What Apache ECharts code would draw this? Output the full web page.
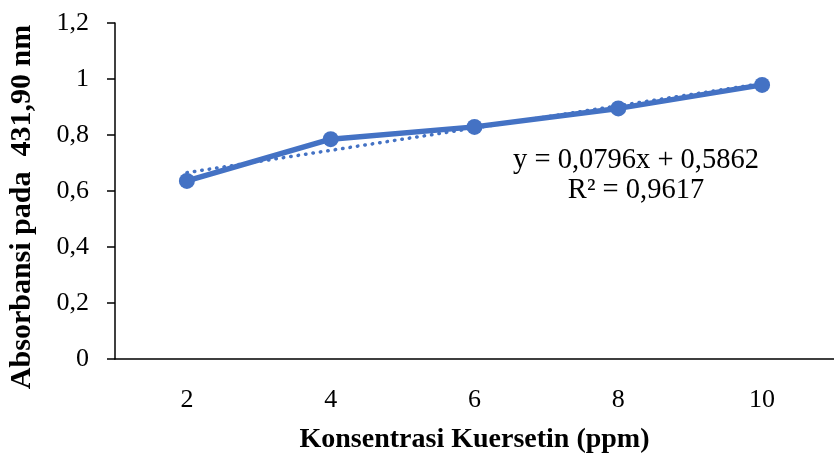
<!DOCTYPE html>
<html><head><meta charset="utf-8">
<script src="https://cdn.jsdelivr.net/npm/echarts@6/dist/echarts.min.js"></script>
<style>html,body{margin:0;padding:0;background:#fff}#c{width:834px;height:459px}</style>
</head><body><div id="c"></div>
<script>
const categories = ['2','4','6','8','10'];
const absorbance = [0.636, 0.785, 0.829, 0.895, 0.979];
const yTicks = [0, 0.2, 0.4, 0.6, 0.8, 1, 1.2];
const equationText = 'y = 0,0796x + 0,5862';
const r2Text = 'R² = 0,9617';
const xTitle = 'Konsentrasi Kuersetin (ppm)';
const yTitle = 'Absorbansi pada  431,90 nm';

// linear regression on category index (1..n), as the spreadsheet trendline does
const n = absorbance.length;
const xs = absorbance.map((_, i) => i + 1);
const mx = xs.reduce((a, b) => a + b, 0) / n;
const my = absorbance.reduce((a, b) => a + b, 0) / n;
let sxy = 0, sxx = 0;
xs.forEach((x, i) => { sxy += (x - mx) * (absorbance[i] - my); sxx += (x - mx) * (x - mx); });
const slope = sxy / sxx, intercept = my - slope * mx;
const trend = xs.map(x => intercept + slope * x);

const chart = echarts.init(document.getElementById('c'));
const serif = 'Liberation Serif, Times New Roman, serif';
chart.setOption({
  animation: false,
  grid: { left: 115, right: -10, top: 23, bottom: 96 },
  xAxis: {
    type: 'category', data: categories, boundaryGap: true,
    name: xTitle, nameLocation: 'middle', nameGap: 67,
    nameTextStyle: { fontFamily: serif, fontSize: 28, fontWeight: 'bold', color: '#000' },
    axisLine: { lineStyle: { color: '#000', width: 1.5 } },
    axisTick: { alignWithLabel: true, length: 6, lineStyle: { color: '#000', width: 1.5 } },
    axisLabel: { fontFamily: serif, fontSize: 26, color: '#000', margin: 28 },
    splitLine: { show: false }
  },
  yAxis: {
    type: 'value', min: 0, max: 1.2, interval: 0.2,
    axisLine: { show: true, lineStyle: { color: '#000', width: 1.5 } },
    axisTick: { show: true, length: 8, lineStyle: { color: '#000', width: 1.5 } },
    axisLabel: { fontFamily: serif, fontSize: 26, color: '#000', margin: 26,
      formatter: v => { const t = yTicks.find(k => Math.abs(k - v) < 1e-9); return String(t === undefined ? v : t).replace('.', ','); } },
    splitLine: { show: false }
  },
  series: [
    { type: 'line', data: trend, symbol: 'none', z: 1,
      lineStyle: { color: '#4472C4', width: 3.5, type: [0.5, 7], cap: 'round' } },
    { type: 'line', data: absorbance, symbol: 'circle', symbolSize: 16, z: 2,
      itemStyle: { color: '#4472C4' },
      lineStyle: { color: '#4472C4', width: 5.5 } }
  ],
  graphic: [
    { type: 'text', x: 636, y: 161, style: { text: equationText, font: '28.5px ' + serif, fill: '#000', align: 'center', verticalAlign: 'middle' } },
    { type: 'text', x: 636, y: 191, style: { text: r2Text, font: '28.5px ' + serif, fill: '#000', align: 'center', verticalAlign: 'middle' } },
    { type: 'text', x: 22, y: 207, rotation: Math.PI / 2, style: { text: yTitle, font: 'bold 30px ' + serif, fill: '#000', align: 'center', verticalAlign: 'middle' } }
  ]
});
</script></body></html>
